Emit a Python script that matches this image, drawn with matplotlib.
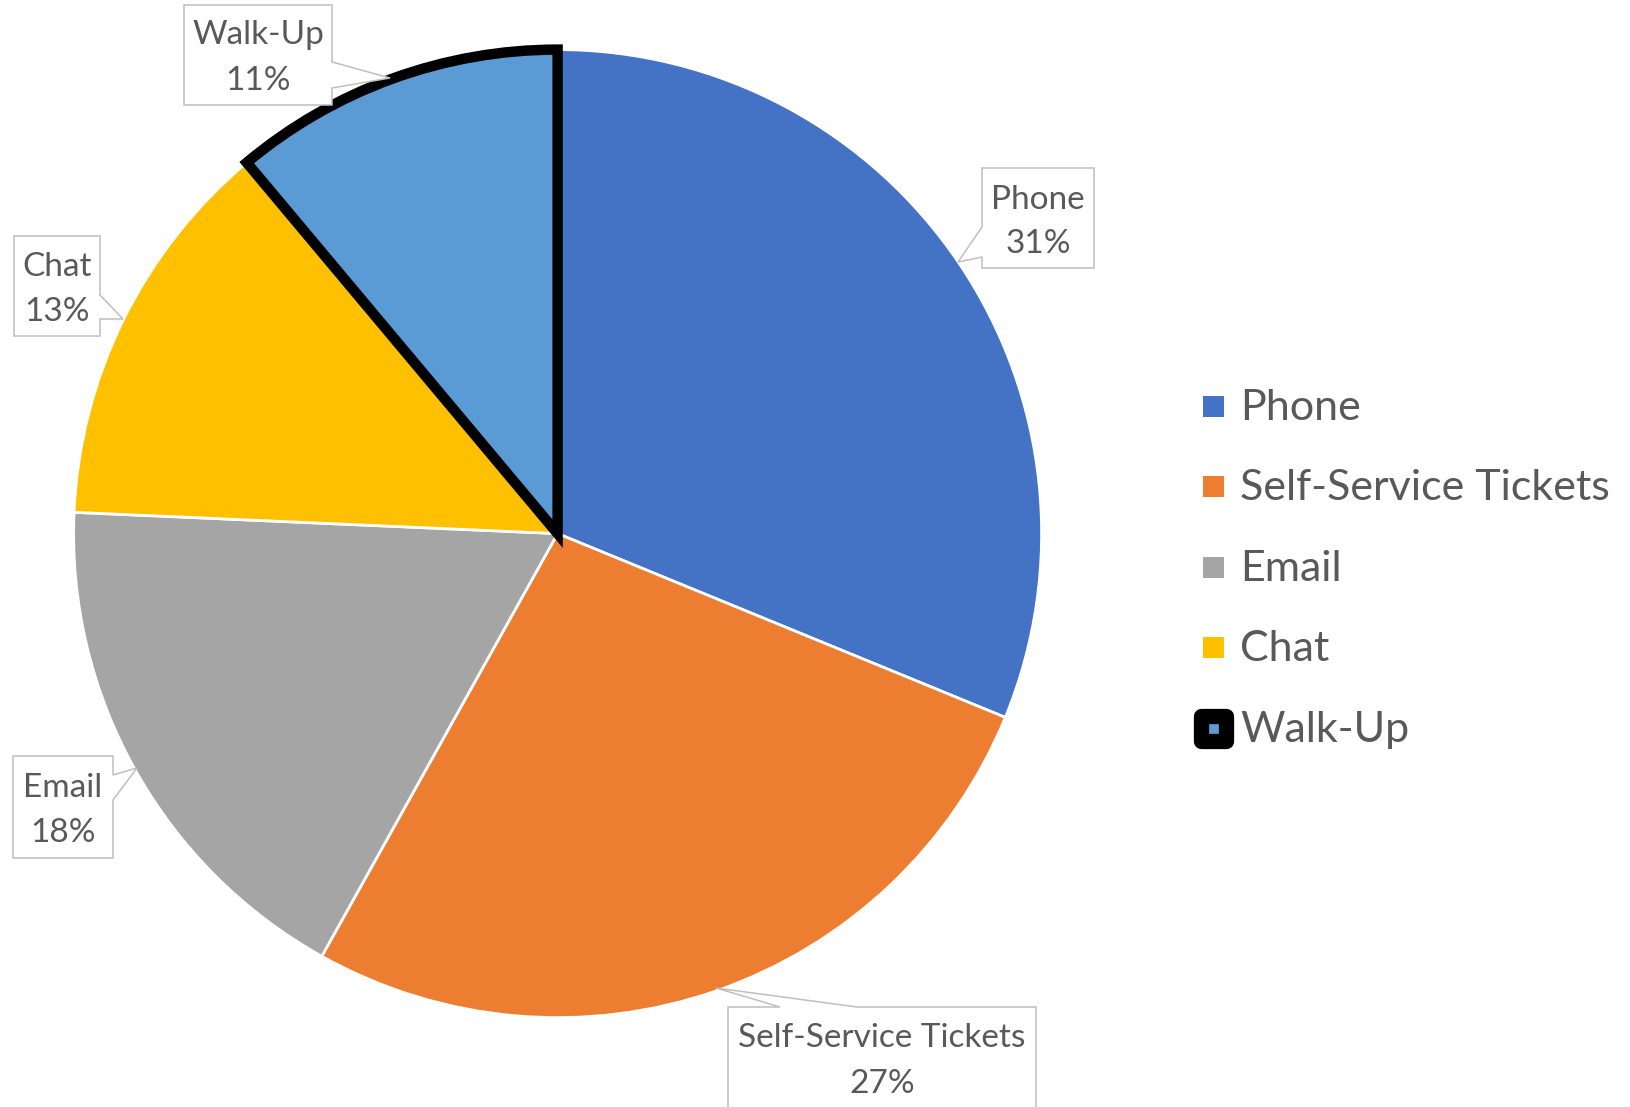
import matplotlib.pyplot as plt
from matplotlib.patches import Polygon, Rectangle

plt.rcParams['font.family'] = ['Lato', 'DejaVu Sans']

categories = ['Phone', 'Self-Service Tickets', 'Email', 'Chat', 'Walk-Up']
shares = [31.2, 26.9, 17.6, 13.2, 11.1]
colors = ['#4472C4', '#ED7D31', '#A5A5A5', '#FFC000', '#5B9BD5']

W, H = 1631, 1107
TEXT = '#595959'
BOX_EDGE = '#BFBFBF'

# callout layout (pixel, measured from top): box x0, x1, y0, y1, line ys, pointer base + tip
callouts = [
    dict(box=(982, 1094, 168, 268), lines=(200, 244), ptr=[(982, 257), (958, 262), (982, 227)]),
    dict(box=(728, 1036, 1007, 1112), lines=(1038, 1084), ptr=[(780, 1007), (716, 988), (857, 1007)]),
    dict(box=(13, 113, 756, 858), lines=(788, 833), ptr=[(113, 775), (137, 768), (113, 800)]),
    dict(box=(14, 100, 236, 336), lines=(267, 312), ptr=[(100, 295), (123, 319), (100, 319)]),
    dict(box=(184, 332, 5, 105), lines=(35, 81), ptr=[(332, 62), (390, 78), (332, 88)]),
]
legend_rows = [408, 488, 569, 649, 730]


def Y(y):
    return H - y


fig = plt.figure(figsize=(W / 100, H / 100), dpi=100)
ax = fig.add_axes([0, 0, 1, 1])

wedges, _ = ax.pie(shares, colors=colors, startangle=90, counterclock=False,
                   center=(557.6, Y(533.6)), radius=484,
                   wedgeprops=dict(edgecolor='white', linewidth=2))
wedges[-1].set_edgecolor('black')
wedges[-1].set_linewidth(7.5)
wedges[-1].set_joinstyle('miter')
wedges[-1].set_zorder(3)

ax.set_xlim(0, W)
ax.set_ylim(0, H)
ax.set_aspect('auto')
ax.axis('off')

total = sum(shares)
for name, val, c in zip(categories, shares, callouts):
    x0, x1, y0, y1 = c['box']
    p = c['ptr']
    # build outline with pointer inserted in the correct edge
    if p[0][0] == x0 and p[2][0] == x0:      # left edge
        verts = [(x0, y0), (x1, y0), (x1, y1), (x0, y1), p[0], p[1], p[2]]
    elif p[0][1] == y0 and p[2][1] == y0:    # top edge
        verts = [(x0, y0), p[0], p[1], p[2], (x1, y0), (x1, y1), (x0, y1)]
    else:                                    # right edge
        verts = [(x0, y0), (x1, y0), p[0], p[1], p[2], (x1, y1), (x0, y1)]
    verts = [(vx, Y(vy)) for vx, vy in verts]
    ax.add_patch(Polygon(verts, closed=True, facecolor='white', edgecolor=BOX_EDGE,
                         linewidth=1.1, zorder=4))
    cx = (x0 + x1) / 2
    ax.text(cx, Y(c['lines'][0]), name, ha='center', va='center', fontsize=24,
            color=TEXT, zorder=5)
    ax.text(cx, Y(c['lines'][1]), f'{val / total * 100:.0f}%', ha='center', va='center',
            fontsize=24, color=TEXT, zorder=5)

# legend
for i, (name, col, ry) in enumerate(zip(categories, colors, legend_rows)):
    mid = ry - 2
    if i == len(categories) - 1:
        ax.add_patch(Rectangle((1214 - 12.5, Y(mid) - 12.5), 25, 25, facecolor=col,
                               edgecolor='black', linewidth=11, joinstyle='round'))
    else:
        ax.add_patch(Rectangle((1203.5, Y(mid) - 10.5), 21, 21, facecolor=col,
                               edgecolor='none'))
    ax.text(1240, Y(ry), name, ha='left', va='center', fontsize=31, color=TEXT)

fig.savefig('out.png', dpi=100)
